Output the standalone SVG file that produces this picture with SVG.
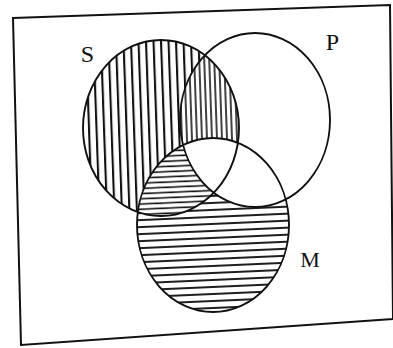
<svg xmlns="http://www.w3.org/2000/svg" width="393" height="348" viewBox="0 0 393 348">
  <style>
    .outline { fill: none; stroke: #111; stroke-width: 1.9; }
    .frame { fill: none; stroke: #111; stroke-width: 2; stroke-linejoin: miter; }
    .label { font-family: "Liberation Serif", "Times New Roman", serif; fill: #111; text-anchor: middle; }
  </style>
  <defs>
    <ellipse id="eS" cx="161" cy="128" rx="78" ry="88"/>
    <ellipse id="eP" cx="255" cy="120" rx="75" ry="87"/>
    <ellipse id="eM" cx="213" cy="225" rx="76" ry="87"/>
    <pattern id="vWide" width="7.5" height="10" patternUnits="userSpaceOnUse" patternTransform="rotate(-2)">
      <line x1="2" y1="0" x2="2" y2="10" stroke="#111" stroke-width="2.1"/>
    </pattern>
    <pattern id="vDense" width="5" height="10" patternUnits="userSpaceOnUse" patternTransform="rotate(-2)">
      <line x1="2" y1="0" x2="2" y2="10" stroke="#111" stroke-width="1.6"/>
    </pattern>
    <pattern id="hWide" width="10" height="7" patternUnits="userSpaceOnUse" patternTransform="rotate(-2.5)">
      <line x1="0" y1="2" x2="10" y2="2" stroke="#111" stroke-width="1.9"/>
    </pattern>
    <pattern id="hDense" width="10" height="5.2" patternUnits="userSpaceOnUse" patternTransform="rotate(-2.5)">
      <line x1="0" y1="2" x2="10" y2="2" stroke="#111" stroke-width="1.6"/>
    </pattern>
    <mask id="mSonly" maskUnits="userSpaceOnUse" x="0" y="0" width="393" height="348">
      <use href="#eS" fill="#fff"/>
      <use href="#eM" fill="#000"/>
      <use href="#eP" fill="#000"/>
    </mask>
    <mask id="mSPnotM" maskUnits="userSpaceOnUse" x="0" y="0" width="393" height="348">
      <use href="#eS" fill="#fff"/>
      <use href="#eM" fill="#000"/>
    </mask>
    <clipPath id="cP"><use href="#eP"/></clipPath>
    <clipPath id="cS"><use href="#eS"/></clipPath>
    <mask id="mMonly" maskUnits="userSpaceOnUse" x="0" y="0" width="393" height="348">
      <use href="#eM" fill="#fff"/>
      <use href="#eP" fill="#000"/>
      <use href="#eS" fill="#000"/>
    </mask>
    <mask id="mMnotP" maskUnits="userSpaceOnUse" x="0" y="0" width="393" height="348">
      <use href="#eM" fill="#fff"/>
      <use href="#eP" fill="#000"/>
    </mask>
  </defs>

  <rect width="393" height="348" fill="#fff"/>

  <g id="frame">
    <polygon class="frame" points="13,18 390,5 393,319 21,345"/>
  </g>

  <g id="hatching">
    <rect x="0" y="0" width="393" height="348" fill="url(#vWide)" mask="url(#mSonly)"/>
    <g mask="url(#mSPnotM)">
      <rect x="0" y="0" width="393" height="348" fill="url(#vDense)" clip-path="url(#cP)"/>
    </g>
    <rect x="0" y="0" width="393" height="348" fill="url(#hWide)" mask="url(#mMonly)"/>
    <g mask="url(#mMnotP)">
      <rect x="0" y="0" width="393" height="348" fill="url(#hDense)" clip-path="url(#cS)"/>
    </g>
  </g>

  <g id="S">
    <use href="#eS" class="outline"/>
    <text class="label" x="87.5" y="62" font-size="24">S</text>
  </g>
  <g id="P">
    <use href="#eP" class="outline"/>
    <text class="label" x="332.5" y="50" font-size="24">P</text>
  </g>
  <g id="M">
    <use href="#eM" class="outline"/>
    <text class="label" x="310" y="267" font-size="22">M</text>
  </g>

  <g id="connectors"/>
</svg>
